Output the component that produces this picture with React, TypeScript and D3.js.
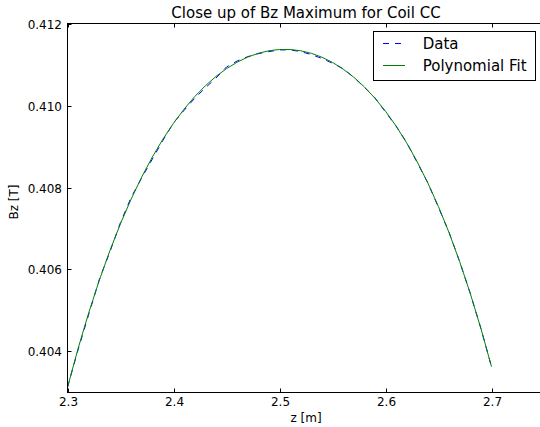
import React from 'react';
import * as d3 from 'd3';

const W = 540;
const H = 427;
const MARGIN = { top: 23.5, right: -4.5, bottom: 34.5, left: 67.5 };

// z positions [m]
const zValues = [
  2.30, 2.31, 2.32, 2.33, 2.34, 2.35, 2.36, 2.37, 2.38, 2.39,
  2.40, 2.41, 2.42, 2.43, 2.44, 2.45, 2.46, 2.47, 2.48, 2.49,
  2.50, 2.51, 2.52, 2.53, 2.54, 2.55, 2.56, 2.57, 2.58, 2.59,
  2.60, 2.61, 2.62, 2.63, 2.64, 2.65, 2.66, 2.67, 2.68, 2.69, 2.70
];

// measured Bz [T]
const bzData = [
  0.403126, 0.404044, 0.404902, 0.405756, 0.406430, 0.407148, 0.407755, 0.408235, 0.408692, 0.409148,
  0.409577, 0.409882, 0.410176, 0.410430, 0.410667, 0.410939, 0.411086, 0.411191, 0.411264, 0.411315,
  0.411356, 0.411356, 0.411315, 0.411243, 0.411148, 0.411031, 0.410899, 0.410691, 0.410445, 0.410189,
  0.409841, 0.409498, 0.409097, 0.408604, 0.408108, 0.407512, 0.406905, 0.406190, 0.405414, 0.404562, 0.403629
];

// polynomial fit Bz [T]
const bzFit = [
  0.403126, 0.404074, 0.404942, 0.405736, 0.406460, 0.407118, 0.407715, 0.408255, 0.408742, 0.409178,
  0.409567, 0.409912, 0.410216, 0.410480, 0.410707, 0.410899, 0.411056, 0.411181, 0.411274, 0.411335,
  0.411366, 0.411366, 0.411335, 0.411273, 0.411178, 0.411051, 0.410889, 0.410691, 0.410455, 0.410179,
  0.409861, 0.409498, 0.409087, 0.408624, 0.408108, 0.407532, 0.406895, 0.406190, 0.405414, 0.404562, 0.403629
];

const xTicks = [2.3, 2.4, 2.5, 2.6, 2.7];
const yTicks = [0.404, 0.406, 0.408, 0.410, 0.412];

const FONT = 'DejaVu Sans, sans-serif';

export default function App() {
  const x = d3.scaleLinear().domain([2.3, 2.75]).range([MARGIN.left, W - MARGIN.right]);
  const y = d3.scaleLinear().domain([0.403, 0.412]).range([H - MARGIN.bottom, MARGIN.top]);

  const line = d3.line<number>()
    .x((_, i) => x(zValues[i]))
    .y((d) => y(d));

  const left = MARGIN.left;
  const right = W - MARGIN.right;
  const top = MARGIN.top;
  const bottom = H - MARGIN.bottom;
  const tick = 4;

  return <div style={{ position: 'absolute', left: 0, top: 0 }}>
    <svg width={W} height={H} style={{ display: 'block', background: '#fff' }} fontFamily={FONT}>
      <defs>
        <clipPath id='plot'>
          <rect x={left} y={top} width={right - left} height={bottom - top} />
        </clipPath>
      </defs>

      <g clipPath='url(#plot)' fill='none'>
        <path d={line(bzData) || ''} stroke='#0000ff' strokeWidth={1} strokeDasharray='6,6' />
        <path d={line(bzFit) || ''} stroke='#008000' strokeWidth={1} />
      </g>

      {/* spines */}
      <rect x={left} y={top} width={right - left} height={bottom - top} fill='none' stroke='#000' strokeWidth={1} />

      {/* x ticks */}
      {xTicks.map((t) => {
        const px = Math.round(x(t)) + 0.5;
        return <g key={t}>
          <line x1={px} x2={px} y1={bottom} y2={bottom - tick} stroke='#000' />
          <line x1={px} x2={px} y1={top} y2={top + tick} stroke='#000' />
          <text x={px} y={406} fontSize={12} textAnchor='middle'>{d3.format('.1f')(t)}</text>
        </g>;
      })}

      {/* y ticks */}
      {yTicks.map((t) => {
        const py = Math.round(y(t)) + 0.5;
        return <g key={t}>
          <line x1={left} x2={left + tick} y1={py} y2={py} stroke='#000' />
          <line x1={right} x2={right - tick} y1={py} y2={py} stroke='#000' />
          <text x={62} y={py} dy='0.36em' fontSize={12} textAnchor='end'>{d3.format('.3f')(t)}</text>
        </g>;
      })}

      <text x={(left + right) / 2} y={18.3} fontSize={15} textAnchor='middle'>Close up of Bz Maximum for Coil CC</text>
      <text x={(left + right) / 2} y={421.5} fontSize={12} textAnchor='middle'>z [m]</text>
      <text transform='translate(18.3,202) rotate(-90)' fontSize={12} textAnchor='middle'>Bz [T]</text>

      {/* legend */}
      <g>
        <rect x={373.5} y={31.5} width={162} height={49} fill='#fff' stroke='#000' strokeWidth={1} />
        <line x1={383} x2={405} y1={43.5} y2={43.5} stroke='#0000ff' strokeDasharray='6,6' />
        <text x={422.7} y={49} fontSize={15}>Data</text>
        <line x1={383} x2={405} y1={65.5} y2={65.5} stroke='#008000' />
        <text x={422.7} y={70.5} fontSize={15}>Polynomial Fit</text>
      </g>
    </svg>
  </div>;
}
